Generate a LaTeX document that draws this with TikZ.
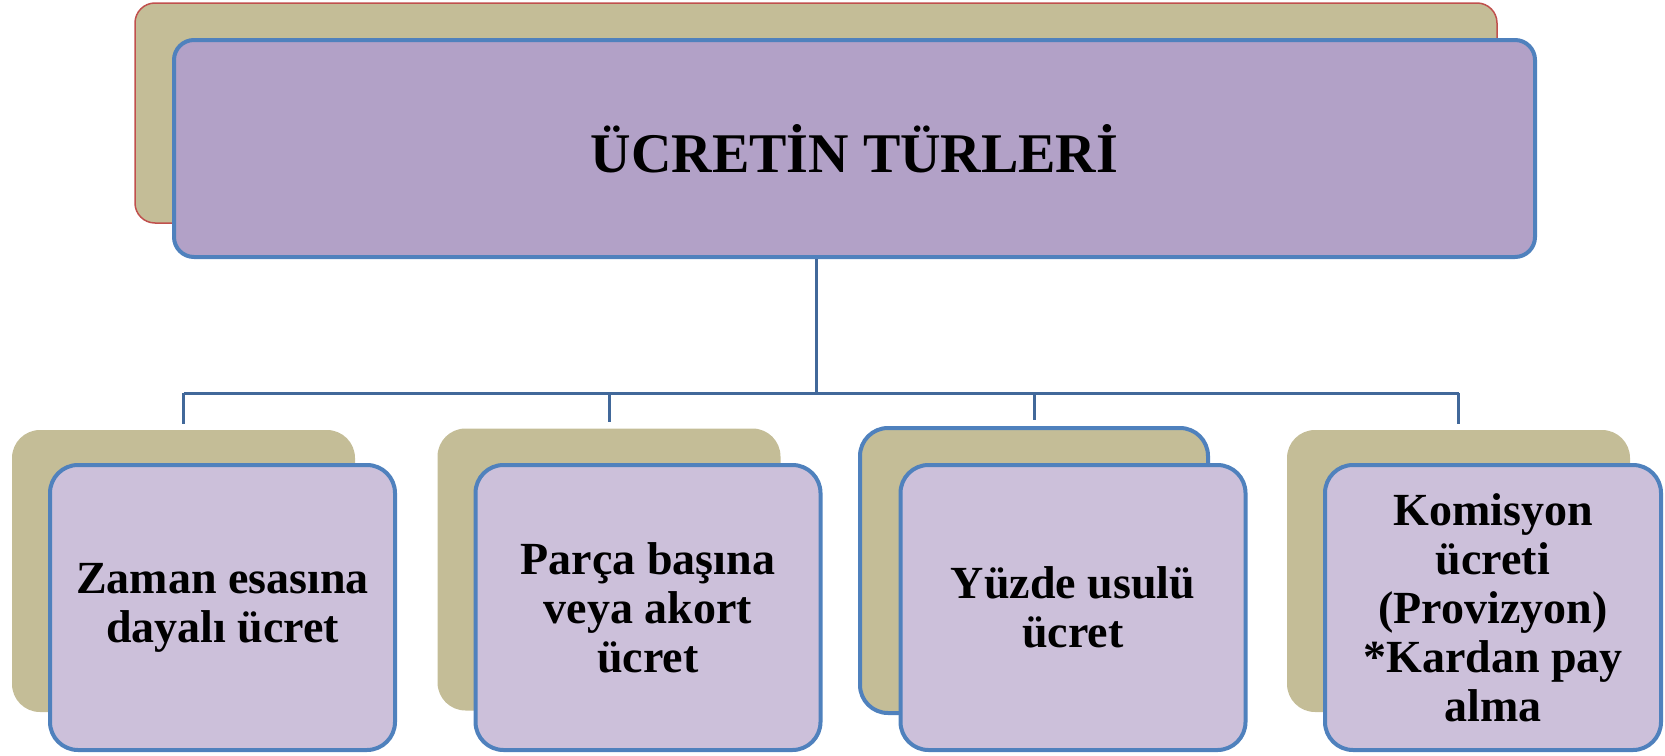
\documentclass[tikz,border=0pt]{standalone}
\usepackage{fontspec}
\setmainfont{Liberation Serif}

\definecolor{shadowtan}{HTML}{C4BD97}
\definecolor{titlefill}{HTML}{B2A1C7}
\definecolor{boxfill}{HTML}{CCC0DA}
\definecolor{boxline}{HTML}{4F81BD}
\definecolor{redline}{HTML}{C0504D}
\definecolor{linkcol}{HTML}{41689A}

\tikzset{
  topback/.style={draw=redline, line width=0.75pt, fill=shadowtan, rounded corners=10pt,
    minimum width=681pt, minimum height=110pt},
  topfront/.style={draw=boxline, line width=2pt, fill=titlefill, rounded corners=10pt,
    minimum width=680.5pt, minimum height=108.5pt,
    font=\fontsize{28}{32}\selectfont\bfseries},
  backbox/.style={fill=shadowtan, rounded corners=14pt,
    minimum width=171.5pt, minimum height=141pt},
  frontbox/.style={draw=boxline, line width=2pt, fill=boxfill, rounded corners=14pt,
    minimum width=172.5pt, minimum height=142.5pt, align=center,
    font=\fontsize{23}{24.5}\selectfont\bfseries},
  link/.style={draw=linkcol, line width=1.5pt}
}

\begin{document}
\begin{tikzpicture}[x=0.5pt,y=-0.5pt]
\useasboundingbox (0,0) rectangle (1665,755);

% title
\node[topback] (titleback) at (816,113) {};
\node[topfront] (title) at (854.5,148.5) {ÜCRETİN TÜRLERİ};

% kinds
\node[backbox] (zamanback) at (183.5,571) {};
\node[frontbox] (zaman) at (222.5,607.5) {Zaman esasına\\dayalı ücret};

\node[backbox] (parcaback) at (609,569.5) {};
\node[frontbox] (parca) at (648,607.5) {Parça başına\\veya akort\\ücret};

\node[backbox, draw=boxline, line width=2pt, minimum width=174pt, minimum height=142.5pt] (yuzdeback) at (1034,570.5) {};
\node[frontbox] (yuzde) at (1073,607.5) {Yüzde usulü\\ücret};

\node[backbox] (komisyonback) at (1458.5,571) {};
\node[frontbox, minimum width=168pt] (komisyon) at (1493,607.5) {Komisyon\\ücreti\\(Provizyon)\\*Kardan pay\\alma};

% connectors
\coordinate (bus) at (816,393);
\draw[link] (titleback.south |- title.south) -- (bus);
\draw[link] (zamanback.north |- bus) -- (komisyonback.north |- bus);
\foreach \n in {zamanback,parcaback,yuzdeback,komisyonback}
  \draw[link, shorten >=3pt] (\n.north |- bus) -- (\n.north);
\end{tikzpicture}
\end{document}
